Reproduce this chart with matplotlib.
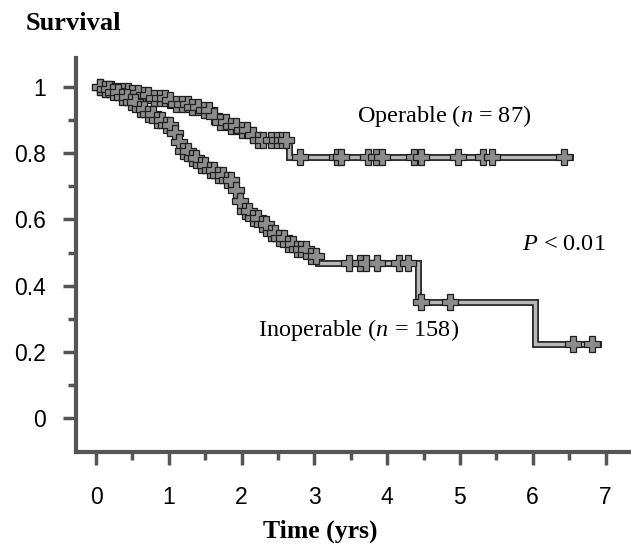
import matplotlib
matplotlib.use("Agg")
import numpy as np
import matplotlib.pyplot as plt
import matplotlib.patheffects as pe

# Kaplan-Meier step points (time in years, survival)
op_t = [0.00, 0.10, 0.25, 0.45, 0.62, 0.80, 0.98, 1.10, 1.30, 1.45, 1.60, 1.68,
        1.80, 1.95, 2.10, 2.20, 2.65, 6.51]
op_s = [1.000, 0.993, 0.988, 0.982, 0.975, 0.968, 0.960, 0.948, 0.940, 0.930,
        0.912, 0.895, 0.882, 0.870, 0.856, 0.840, 0.790, 0.790]
op_cens = [0.05, 0.13, 0.20, 0.28, 0.36, 0.44, 0.50, 0.58, 0.66, 0.72, 0.80, 0.88,
           0.95, 1.02, 1.10, 1.18, 1.26, 1.32, 1.40, 1.48, 1.55, 1.62, 1.70, 1.78,
           1.85, 1.92, 2.00, 2.08, 2.15, 2.22, 2.30, 2.40, 2.48, 2.55, 2.61,
           2.80, 3.31, 3.37, 3.74, 3.84, 3.93, 4.37, 4.46, 4.98, 5.32, 5.44, 6.43]

inop_t = [0.00, 0.10, 0.22, 0.34, 0.46, 0.58, 0.70, 0.82, 0.95, 1.06, 1.12, 1.18,
          1.28, 1.40, 1.52, 1.65, 1.78, 1.90, 1.97, 2.03, 2.12, 2.25, 2.38, 2.50,
          2.62, 2.75, 2.90, 3.05, 4.43, 6.03, 6.90]
inop_s = [1.000, 0.993, 0.985, 0.970, 0.955, 0.935, 0.918, 0.900, 0.885, 0.862,
          0.835, 0.808, 0.785, 0.765, 0.748, 0.735, 0.718, 0.690, 0.655, 0.625,
          0.605, 0.585, 0.560, 0.545, 0.525, 0.510, 0.490, 0.467, 0.349, 0.222, 0.222]
inop_cens = [0.06, 0.12, 0.18, 0.24, 0.30, 0.36, 0.42, 0.48, 0.54, 0.60, 0.66, 0.72,
             0.78, 0.84, 0.90, 0.96, 1.02, 1.08, 1.14, 1.20, 1.26, 1.32, 1.38, 1.44,
             1.50, 1.56, 1.62, 1.68, 1.74, 1.80, 1.86, 1.92, 1.98, 2.04, 2.10, 2.16,
             2.22, 2.28, 2.34, 2.40, 2.46, 2.52, 2.58, 2.64, 2.70, 2.76, 2.82, 2.88,
             2.95, 3.02, 3.47, 3.62, 3.71, 3.86, 4.16, 4.28, 4.47, 4.86, 6.56, 6.81]

x_ticks = [0, 1, 2, 3, 4, 5, 6, 7]
y_ticks = [0, 0.2, 0.4, 0.6, 0.8, 1.0]
y_labels = ["0", "0.2", "0.4", "0.6", "0.8", "1"]

plt.rcParams["mathtext.fontset"] = "custom"
plt.rcParams["mathtext.rm"] = "Liberation Serif"
plt.rcParams["mathtext.it"] = "Liberation Serif:italic"

fig = plt.figure(figsize=(6.31, 5.47), dpi=100)
ax = fig.add_axes([76 / 631, 95 / 547, 1 - 76 / 631, (452 - 58) / 547])


def km_y(t, times, surv):
    idx = np.searchsorted(times, t, side="right") - 1
    return np.asarray(surv)[idx]


outline = [pe.Stroke(linewidth=5, foreground="#2a2a2a"), pe.Normal()]
for times, surv, cens in [(op_t, op_s, op_cens), (inop_t, inop_s, inop_cens)]:
    ax.step(times, surv, where="post", color="#b8b8b8", lw=2.4,
            path_effects=outline, zorder=3, solid_joinstyle="miter")
    ax.plot(cens, km_y(cens, times, surv), ls="none", marker="P", ms=11.5,
            mfc="#8c8c8c", mec="#1e1e1e", mew=0.9, zorder=4)

ax.set_xlim(-0.275, 7.35)
ax.set_ylim(-0.103, 1.088)

for side in ["top", "right"]:
    ax.spines[side].set_visible(False)
for side in ["left", "bottom"]:
    ax.spines[side].set_color("#555555")
    ax.spines[side].set_linewidth(3)

ax.set_xticks(x_ticks)
ax.set_xticks(np.arange(0.5, 7, 1.0), minor=True)
ax.set_yticks(y_ticks)
ax.set_yticklabels(y_labels)
ax.set_yticks(np.arange(0.1, 1.0, 0.2), minor=True)

ax.tick_params(axis="both", which="major", direction="out", length=9.5,
               width=2.5, color="#555555", labelsize=16.5)
ax.tick_params(axis="both", which="minor", direction="out", length=5.5,
               width=2.5, color="#555555")
ax.tick_params(axis="x", which="major", pad=15)
ax.tick_params(axis="y", which="major", pad=12)
for lab in ax.get_xticklabels() + ax.get_yticklabels():
    lab.set_fontfamily("Liberation Sans")

serif = "Liberation Serif"
ax.text(3.585, 0.914, "Operable ($n$ = 87)", fontsize=17.5, family=serif,
        ha="left", va="center")
ax.text(5.85, 0.524, "$P$ < 0.01", fontsize=17.5, family=serif,
        ha="left", va="center")
ax.text(2.23, 0.267, "Inoperable ($n$ = 158)", fontsize=17.5, family=serif,
        ha="left", va="center")

fig.text(73 / 631, 1 - 23 / 547, "Survival", fontsize=19, family=serif,
         fontweight="bold", ha="center", va="center")
fig.text(320 / 631, 1 - 531 / 547, "Time (yrs)", fontsize=18.5, family=serif,
         fontweight="bold", ha="center", va="center")

fig.savefig("out.png", dpi=100)
